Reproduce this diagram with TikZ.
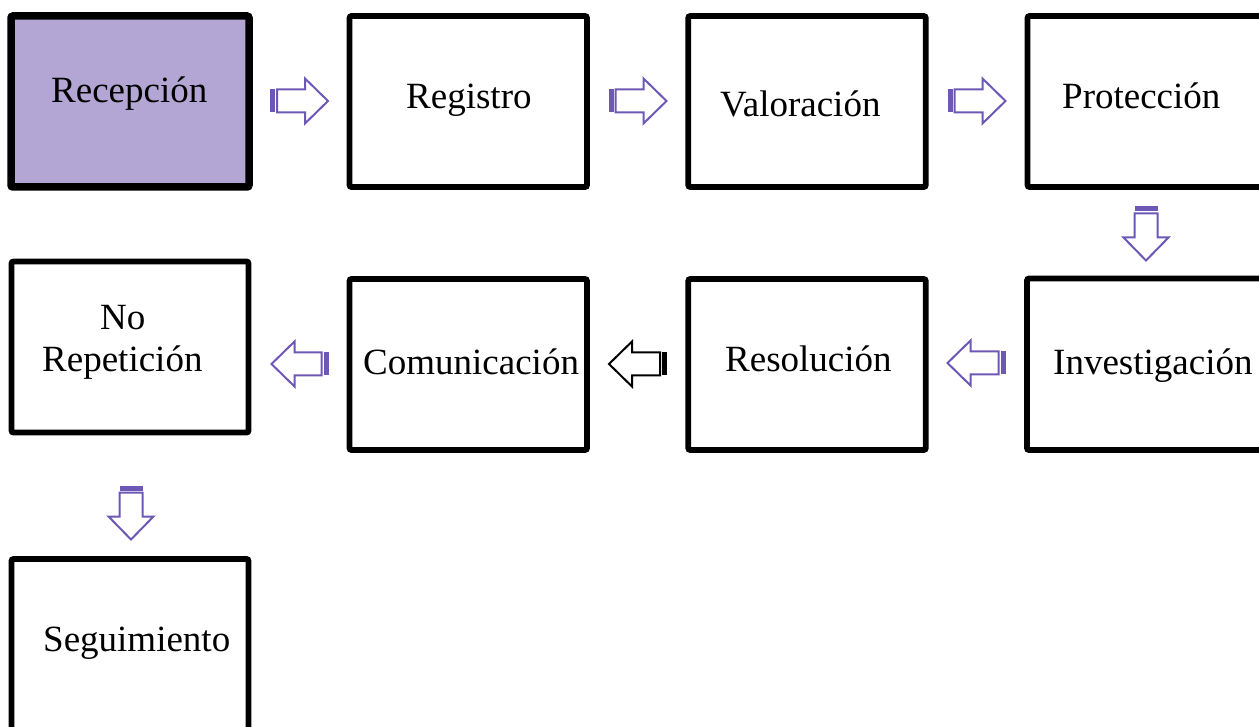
\documentclass[tikz,border=0pt]{standalone}
\usepackage{fontspec}
\setmainfont{Liberation Serif}
\definecolor{lav}{HTML}{B3A6D4}
\definecolor{purp}{HTML}{6E58B6}
\tikzset{
  box/.style={draw=black, line width=5.75pt, rounded corners=2pt, inner sep=0pt, fill=white},
  lbl/.style={anchor=base west, inner sep=0pt, font=\fontsize{37}{40}\selectfont},
  pics/sarrow/.style n args={2}{code={
    \fill[#1] (-#2,-11.5) rectangle (-#2+5,11.5);
    \draw[#1, line width=2pt, fill=white, line join=miter]
      (-#2+7,-11.5) -- (#2-23,-11.5) -- (#2-23,-22.5) -- (#2,0) -- (#2-23,22.5) -- (#2-23,11.5) -- (-#2+7,11.5) -- cycle;
  }}
}
\begin{document}
\begin{tikzpicture}[x=1pt,y=-1pt]
\useasboundingbox (0,0) rectangle (1259,727);
% boxes
\node[box, line width=7.5pt, fill=lav, minimum width=238pt, minimum height=171pt] (rec) at (130,101.5) {};
\node[box, minimum width=237.5pt, minimum height=171pt] (reg) at (468.25,101.5) {};
\node[box, minimum width=237.5pt, minimum height=171pt] (val) at (807,101.5) {};
\node[box, minimum width=240pt, minimum height=171pt] (pro) at (1147.5,101.5) {};
\node[box, minimum width=237pt, minimum height=171pt] (nor) at (130,347) {};
\node[box, minimum width=237.5pt, minimum height=171pt] (com) at (468.25,364.5) {};
\node[box, minimum width=237.5pt, minimum height=171pt] (res) at (807,364.5) {};
\node[box, minimum width=241pt, minimum height=171.5pt] (inv) at (1147.5,364.25) {};
\node[box, minimum width=237pt, minimum height=181pt] (seg) at (130,649.5) {};
% labels
\node[lbl] (trec) at (51,103) {Recepción};
\node[lbl] (treg) at (406,109) {Registro};
\node[lbl] (tval) at (720,117) {Valoración};
\node[lbl] (tpro) at (1062,109) {Protección};
\node[lbl] (tno) at (100,330) {No};
\node[lbl] (trep) at (42,372) {Repetición};
\node[lbl] (tcom) at (363,375) {Comunicación};
\node[lbl] (tres) at (725,372) {Resolución};
\node[lbl] (tinv) at (1053,375) {Investigación};
\node[lbl] (tseg) at (43,651) {Seguimiento};
% striped block arrows
\pic (a1) at (299,101) {sarrow={purp}{29}};
\pic (a2) at (637.5,101) {sarrow={purp}{29}};
\pic (a3) at (976.5,101) {sarrow={purp}{29}};
\pic[rotate=-90] (d1) at (1146,233.5) {sarrow={purp}{27}};
\pic[rotate=180] (l1) at (976.5,363) {sarrow={purp}{29}};
\pic[rotate=180] (l2) at (638,364) {sarrow={black}{29}};
\pic[rotate=180] (l3) at (300,364) {sarrow={purp}{28.5}};
\pic[rotate=-90] (d2) at (131,512.5) {sarrow={purp}{27}};
\end{tikzpicture}
\end{document}
